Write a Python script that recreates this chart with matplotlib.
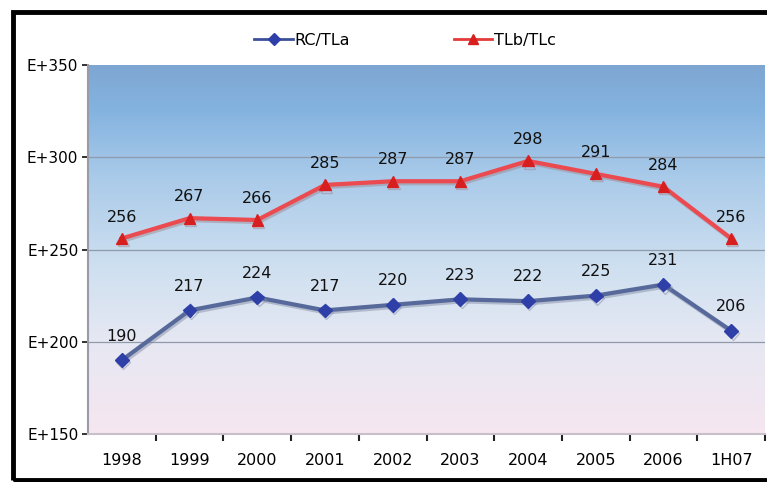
import numpy as np
import matplotlib
matplotlib.use('Agg')
import matplotlib.pyplot as plt
import matplotlib.patheffects as pe
from matplotlib.colors import LinearSegmentedColormap
from matplotlib.lines import Line2D
from matplotlib.patches import Rectangle

years = ['1998', '1999', '2000', '2001', '2002', '2003', '2004', '2005', '2006', '1H07']
rc_tla = [190, 217, 224, 217, 220, 223, 222, 225, 231, 206]
tlb_tlc = [256, 267, 266, 285, 287, 287, 298, 291, 284, 256]
yticks = [150, 200, 250, 300, 350]
ytick_labels = ['E+150', 'E+200', 'E+250', 'E+300', 'E+350']

W, H = 767, 482
fig = plt.figure(figsize=(W / 100, H / 100), dpi=100)
fig.patch.set_facecolor('white')

# outer black frame
fig.patches.append(Rectangle((13 / W, 2 / H), 1.0, (H - 14) / H, transform=fig.transFigure,
                             fill=False, edgecolor='black', linewidth=3.5))

ax = fig.add_axes([88 / W, (H - 434) / H, (765 - 88) / W, (434 - 65) / H])
x = np.arange(len(years))
ax.set_xlim(-0.5, len(years) - 0.5)
ax.set_ylim(150, 350)

# gradient background
grad = LinearSegmentedColormap.from_list('bg', [
    (0.0, '#f6e6f0'), (0.25, '#e6e8f3'), (0.45, '#cfe0f0'),
    (0.7, '#a9cae9'), (0.88, '#84b3e0'), (1.0, '#7ea6d2')])
ax.imshow(np.linspace(0, 1, 256).reshape(-1, 1), aspect='auto', cmap=grad,
          extent=[-0.5, len(years) - 0.5, 150, 350], origin='lower', zorder=0)

for yv in yticks[1:-1]:
    ax.axhline(yv, color='#8f9bab', lw=0.9, zorder=1)

blue, = ax.plot(x, rc_tla, color='#56699a', lw=3, marker='D', ms=7,
                mfc='#2f3fa8', mec='#2f3fa8', zorder=3,
                path_effects=[pe.SimpleLineShadow(offset=(1, -1.5), shadow_color='#8890a8', alpha=0.5),
                              pe.Normal()])
red, = ax.plot(x, tlb_tlc, color='#ea4a50', lw=3, marker='^', ms=8,
               mfc='#d81f1f', mec='#d81f1f', zorder=3,
               path_effects=[pe.SimpleLineShadow(offset=(1, -1.5), shadow_color='#a08890', alpha=0.5),
                             pe.Normal()])

for xi, v in zip(x, rc_tla):
    ax.annotate(str(v), (xi, v), xytext=(0, 12), textcoords='offset points',
                ha='center', va='bottom', fontsize=11.5, color='#111111', zorder=4)
for xi, v in zip(x, tlb_tlc):
    ax.annotate(str(v), (xi, v), xytext=(0, 10), textcoords='offset points',
                ha='center', va='bottom', fontsize=11.5, color='#111111', zorder=4)

ax.set_yticks(yticks)
ax.set_yticklabels(ytick_labels, fontsize=11)
ax.set_xticks(x)
ax.set_xticklabels(years, fontsize=11.5)
ax.set_xticks(np.arange(len(years)) - 0.5 + 1, minor=True)
ax.tick_params(axis='x', which='major', length=0, pad=14)
ax.tick_params(axis='x', which='minor', length=5, width=1.5, direction='out', color='#222222')
ax.tick_params(axis='y', length=4, width=1.3, color='#222222', pad=3)
for s in ['top', 'right']:
    ax.spines[s].set_visible(False)
ax.spines['left'].set_color('#9a9aa8')
ax.spines['left'].set_linewidth(1.5)
ax.spines['bottom'].set_color('#c8c0c8')
ax.spines['bottom'].set_linewidth(1.5)

handles = [Line2D([], [], color='#3c4f9a', lw=2, marker='D', ms=6, mfc='#2f3fa8', mec='#2f3fa8'),
           Line2D([], [], color='#e53a3a', lw=2, marker='^', ms=7, mfc='#d81f1f', mec='#d81f1f')]
fig.legend(handles, ['RC/TLa', 'TLb/TLc'], loc='center', bbox_to_anchor=(405 / W, 1 - 40 / H),
           ncol=2, frameon=False, fontsize=11.5, handlelength=2.4, handletextpad=0.1,
           columnspacing=6.5)

fig.savefig('out.png', dpi=100)
